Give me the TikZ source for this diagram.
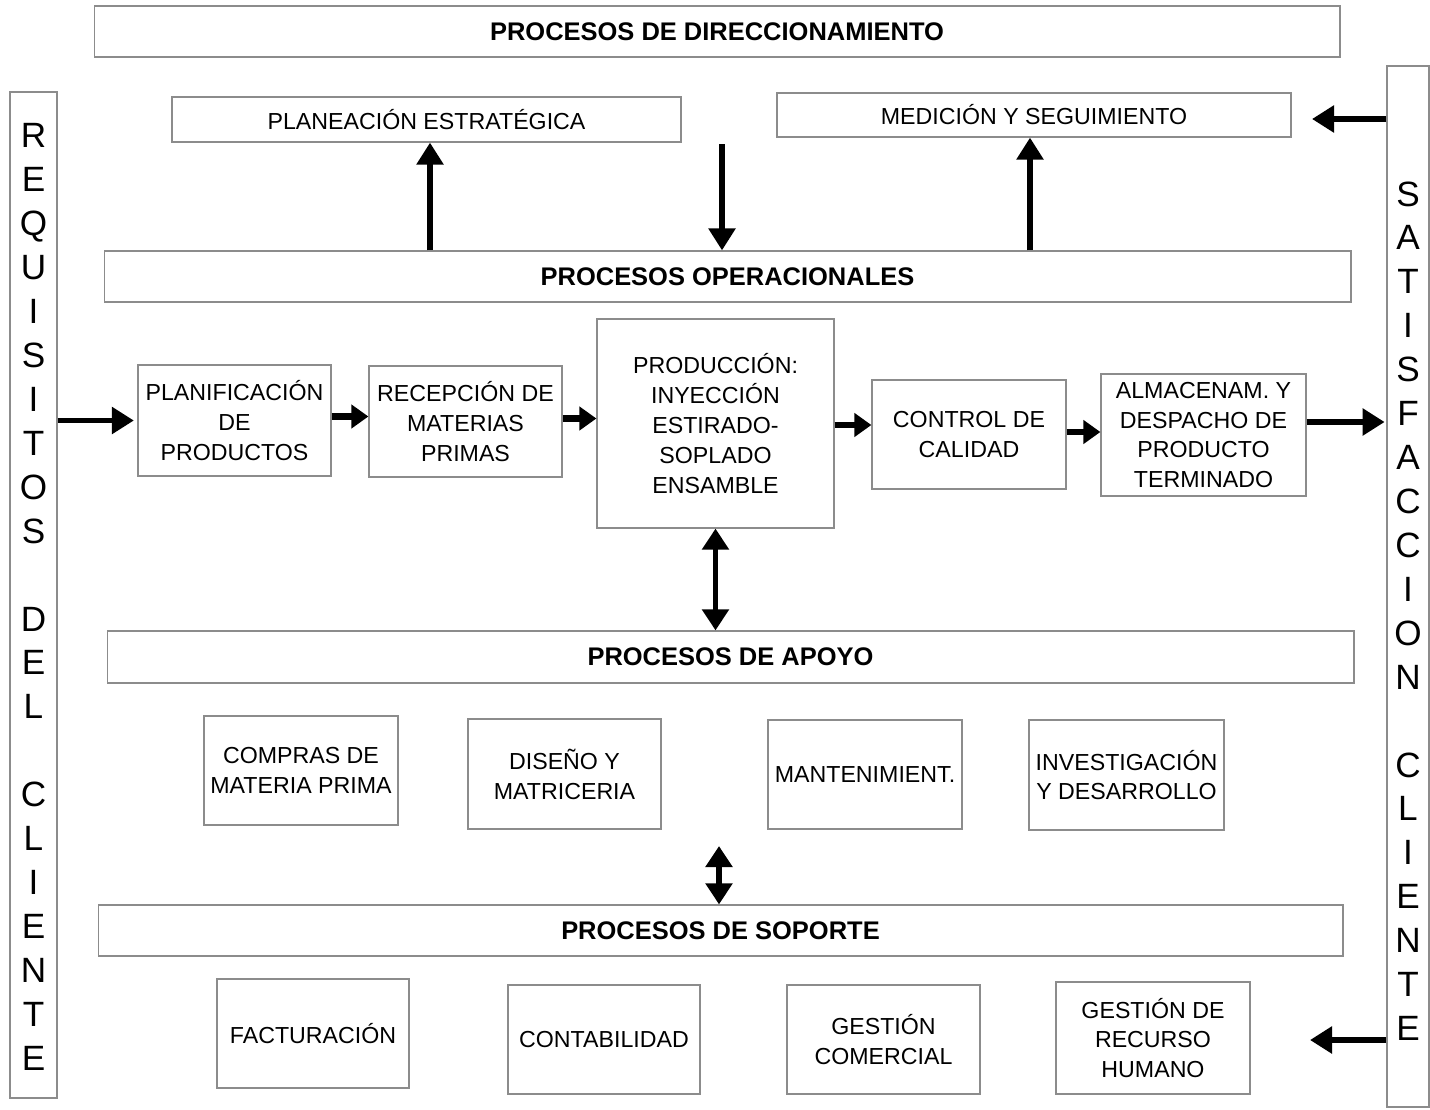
\documentclass[tikz,border=0pt]{standalone}
\usepackage{fontspec}
\setmainfont{Liberation Sans}
\usetikzlibrary{arrows.meta}
\definecolor{boxgray}{HTML}{8C8C8C}

\begin{document}
\begin{tikzpicture}[x=0.02cm, y=-0.02cm,
    box/.style={draw=boxgray, line width=0.7pt, fill=white, align=center, inner sep=2pt,
                font=\fontsize{13.2}{17}\selectfont},
    band/.style={box, minimum height=1.02cm, font=\fontsize{14.5}{17}\selectfont\bfseries},
    side/.style={draw=boxgray, line width=0.7pt},
    vtext/.style={align=center, inner sep=0pt, font=\fontsize{20}{25}\selectfont},
    arrow/.style={-{Triangle[length=0.44cm, width=0.52cm]}, line width=3.3pt},
    shortarrow/.style={-{Triangle[length=0.34cm, width=0.46cm]}, line width=3.5pt},
    both/.style={{Triangle[length=0.42cm, width=0.52cm]}-{Triangle[length=0.42cm, width=0.52cm]},
                 line width=3.3pt}
  ]
  \useasboundingbox[fill=white] (0,0) rectangle (1430,1109);

  % bandas de procesos
  \node[band, minimum width=24.92cm] (dir) at (717,31.5) {PROCESOS DE DIRECCIONAMIENTO};
  \node[band, minimum width=24.94cm] (oper) at (727.5,276.5) {PROCESOS OPERACIONALES};
  \node[band, minimum width=24.94cm, minimum height=1.04cm] (apoyo) at (730.5,657) {PROCESOS DE APOYO};
  \node[band, minimum width=24.90cm] (soporte) at (720.5,930.5) {PROCESOS DE SOPORTE};

  % barras laterales
  \node[side, minimum width=0.94cm, minimum height=20.12cm] (req) at (33.5,595) {};
  \node[vtext] (reqtxt) at (33.5,597) {R\\E\\Q\\U\\I\\S\\I\\T\\O\\S\\[25pt]D\\E\\L\\[25pt]C\\L\\I\\E\\N\\T\\E};
  \node[side, minimum width=0.84cm, minimum height=20.82cm] (sat) at (1408,586.5) {};
  \node[vtext] (sattxt) at (1408,611) {S\\A\\T\\I\\S\\F\\A\\C\\C\\I\\O\\N\\[25pt]C\\L\\I\\E\\N\\T\\E};

  % direccionamiento
  \node[box, minimum width=10.18cm, minimum height=0.9cm] (plan) at (426.5,119.5) {PLANEACIÓN ESTRATÉGICA};
  \node[box, minimum width=10.28cm, minimum height=0.88cm] (med) at (1034,115) {MEDICIÓN Y SEGUIMIENTO};

  % operacionales
  \node[box, minimum width=3.86cm, minimum height=2.22cm] (planif) at (234.5,420.5) {PLANIFICACIÓN\\DE\\PRODUCTOS};
  \node[box, minimum width=3.86cm, minimum height=2.22cm] (recep) at (465.5,421.5) {RECEPCIÓN DE\\MATERIAS\\PRIMAS};
  \node[box, minimum width=4.74cm, minimum height=4.18cm] (prod) at (715.5,423.5) {PRODUCCIÓN:\\INYECCIÓN\\ESTIRADO-\\SOPLADO\\ENSAMBLE};
  \node[box, minimum width=3.88cm, minimum height=2.18cm] (ctrl) at (969,434.5) {CONTROL DE\\CALIDAD};
  \node[box, minimum width=4.10cm, minimum height=2.44cm] (alm) at (1203.5,435) {ALMACENAM. Y\\DESPACHO DE\\PRODUCTO\\TERMINADO};

  % apoyo
  \node[box, minimum width=3.88cm, minimum height=2.18cm] (compras) at (301,770.5) {COMPRAS DE\\MATERIA PRIMA};
  \node[box, minimum width=3.86cm, minimum height=2.20cm] (diseno) at (564.5,774) {DISEÑO Y\\MATRICERIA};
  \node[box, minimum width=3.88cm, minimum height=2.18cm] (mant) at (865,774.5) {MANTENIMIENT.};
  \node[box, minimum width=3.90cm, minimum height=2.20cm] (invest) at (1126.5,775) {INVESTIGACIÓN\\Y DESARROLLO};

  % soporte
  \node[box, minimum width=3.84cm, minimum height=2.18cm] (fact) at (313,1033.5) {FACTURACIÓN};
  \node[box, minimum width=3.84cm, minimum height=2.18cm] (conta) at (604,1039.5) {CONTABILIDAD};
  \node[box, minimum width=3.86cm, minimum height=2.18cm] (gcom) at (883.5,1039.5) {GESTIÓN\\COMERCIAL};
  \node[box, minimum width=3.88cm, minimum height=2.24cm] (grh) at (1153,1038) {GESTIÓN DE\\RECURSO\\HUMANO};

  \coordinate (dn) at (722,144);
  \coordinate (medin) at (1312,119);
  \coordinate (apbox) at (719,846);
  \coordinate (rhin) at (1310,1040);

  % flechas
  \draw[arrow] (oper.north -| 430,0) -- (plan.south -| 430,0);
  \draw[arrow] (dn) -- (dn |- oper.north);
  \draw[arrow] (oper.north -| 1030,0) -- (med.south -| 1030,0);
  \draw[arrow] (sat.west |- medin) -- (medin);

  \draw[arrow, shorten >=2pt] (req.east |- planif.west) -- (planif.west);
  \draw[shortarrow] ([yshift=0.08cm]planif.east) -- ([yshift=0.08cm]planif.east -| recep.west);
  \draw[shortarrow] ([yshift=0.06cm]recep.east) -- ([yshift=0.06cm]recep.east -| prod.west);
  \draw[shortarrow] ([yshift=-0.03cm]prod.east) -- ([yshift=-0.03cm]prod.east -| ctrl.west);
  \draw[shortarrow] ([yshift=0.05cm]ctrl.east) -- ([yshift=0.05cm]ctrl.east -| alm.west);
  \draw[arrow, shorten >=1pt] ([yshift=0.26cm]alm.east) -- ([yshift=0.26cm]alm.east -| sat.west);

  \draw[both] (prod.south) -- (prod.south |- apoyo.north);
  \draw[both] (apbox) -- (apbox |- soporte.north);
  \draw[arrow] (sat.west |- rhin) -- (rhin);
\end{tikzpicture}
\end{document}
